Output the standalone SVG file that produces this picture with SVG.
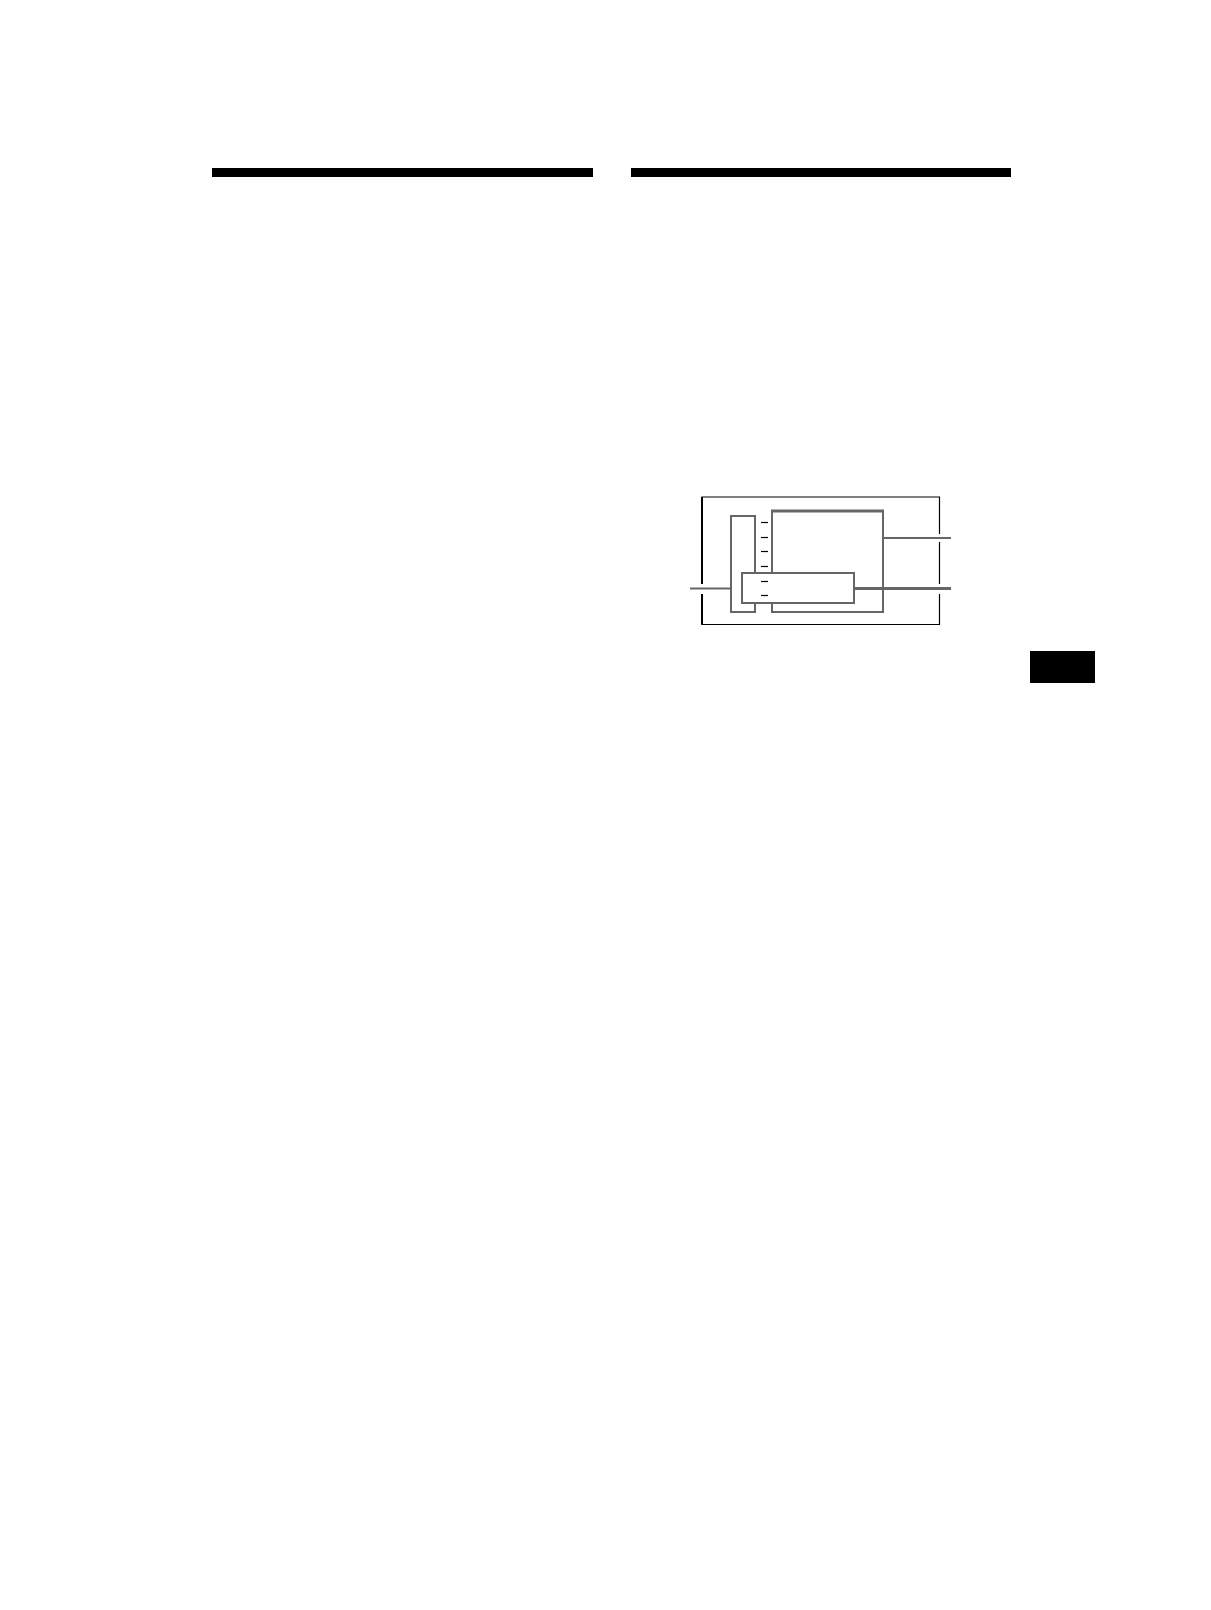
<svg xmlns="http://www.w3.org/2000/svg" width="1211" height="1610" viewBox="0 0 1211 1610">
<style>
.g{fill:none;stroke:#666;stroke-width:2}
.gw{fill:#fff;stroke:#666;stroke-width:2}
.k{fill:none;stroke:#000;stroke-width:1.2}
.t{stroke:#000;stroke-width:1.2}
</style>
<rect width="1211" height="1610" fill="#fff"/>
<g id="bars">
<rect x="212" y="168" width="381" height="9" fill="#000"/>
<rect x="631" y="168" width="380" height="9" fill="#000"/>
<rect x="1030" y="651" width="65" height="32" fill="#000"/>
</g>
<g id="frame">
<path class="k" d="M702,584 V497 H939.5 V534 M939.5,542 V584 M939.5,594 V624.5 H702 V594"/>
<path d="M702,584 V497 M702,594 V624.5" stroke="#000" stroke-width="2" fill="none"/>
</g>
<g id="left-block"><rect class="g" x="731" y="516" width="24" height="96"/></g>
<g id="big-block"><rect class="g" x="772" y="511" width="111" height="101"/><line x1="771" y1="511" x2="884" y2="511" stroke="#666" stroke-width="2.8"/></g>
<g id="ticks">
<line class="t" x1="761" y1="522.5" x2="768" y2="522.5"/>
<line class="t" x1="761" y1="537.5" x2="768" y2="537.5"/>
<line class="t" x1="761" y1="551.5" x2="768" y2="551.5"/>
<line class="t" x1="761" y1="566.5" x2="768" y2="566.5"/>
</g>
<g id="small-block"><rect class="gw" x="742" y="573" width="112" height="30"/>
<line class="t" x1="761" y1="581.5" x2="768" y2="581.5"/>
<line class="t" x1="761" y1="595.5" x2="768" y2="595.5"/>
</g>
<g id="connectors">
<line x1="690" y1="588.5" x2="731" y2="588.5" stroke="#666" stroke-width="2"/>
<line x1="883" y1="538" x2="951" y2="538" stroke="#666" stroke-width="2"/>
<line x1="854" y1="588.5" x2="951" y2="588.5" stroke="#666" stroke-width="3"/>
</g>
</svg>
